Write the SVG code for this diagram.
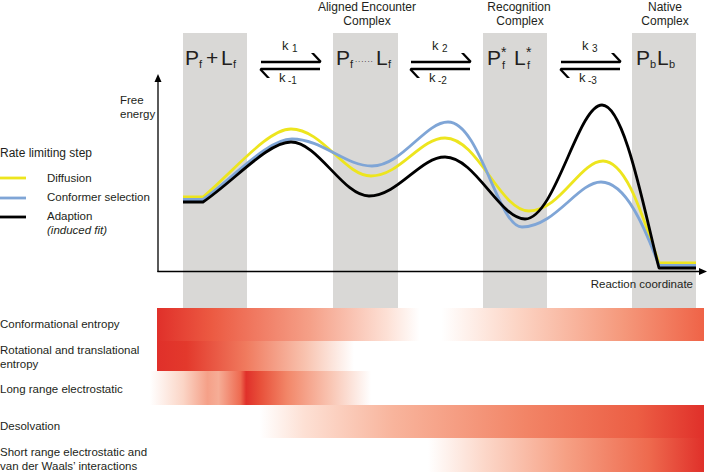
<svg xmlns="http://www.w3.org/2000/svg" width="708" height="472" viewBox="0 0 708 472">
<defs>
<style>
text{font-family:"Liberation Sans",Arial,sans-serif;fill:#231f20}
.lbl{font-size:11.5px}
.hd{font-size:12px;text-anchor:middle}
.big{font-size:21px}
.sub{font-size:11px}
.k{font-size:13px}
.ks{font-size:10px}
.col{fill:#d9d8d6}
.ax{stroke:#000;stroke-width:1.3;fill:none}
.arr{stroke:#000;stroke-width:2.6;fill:none}
.curve{fill:none;stroke-width:2.8;stroke-linejoin:round}
.y{stroke:#ede51e}
.b{stroke:#7fa5d6}
.k0{stroke:#000}
</style>
<linearGradient id="g1" gradientUnits="userSpaceOnUse" x1="157" y1="0" x2="704" y2="0">
<stop offset="0" stop-color="#e0302a"/><stop offset="0.1" stop-color="#ec5a42"/><stop offset="0.28" stop-color="#f5a088"/><stop offset="0.42" stop-color="#fde0d5"/><stop offset="0.48" stop-color="#ffffff"/><stop offset="0.52" stop-color="#ffffff"/><stop offset="0.66" stop-color="#fcd4c4"/><stop offset="0.85" stop-color="#f5997c"/><stop offset="1" stop-color="#ef6347"/>
</linearGradient>
<linearGradient id="g2" gradientUnits="userSpaceOnUse" x1="157" y1="0" x2="354" y2="0">
<stop offset="0" stop-color="#e0302a"/><stop offset="0.15" stop-color="#e3392c"/><stop offset="0.45" stop-color="#f07a5e"/><stop offset="0.75" stop-color="#f8c2ae"/><stop offset="1" stop-color="#ffffff"/>
</linearGradient>
<linearGradient id="g3" gradientUnits="userSpaceOnUse" x1="150" y1="0" x2="371" y2="0">
<stop offset="0" stop-color="#ffffff"/><stop offset="0.15" stop-color="#fbd5c6"/><stop offset="0.26" stop-color="#f5a088"/><stop offset="0.31" stop-color="#f6ad96"/><stop offset="0.41" stop-color="#ee6a50"/><stop offset="0.435" stop-color="#e0302a"/><stop offset="0.5" stop-color="#e8503a"/><stop offset="0.62" stop-color="#f28668"/><stop offset="0.82" stop-color="#f9c6b4"/><stop offset="1" stop-color="#ffffff"/>
</linearGradient>
<linearGradient id="g4" gradientUnits="userSpaceOnUse" x1="260" y1="0" x2="704" y2="0">
<stop offset="0" stop-color="#ffffff"/><stop offset="0.1" stop-color="#fde0d4"/><stop offset="0.3" stop-color="#f8b49c"/><stop offset="0.6" stop-color="#f28466"/><stop offset="0.85" stop-color="#ec5e44"/><stop offset="1" stop-color="#e0302a"/>
</linearGradient>
<linearGradient id="g5" gradientUnits="userSpaceOnUse" x1="428" y1="0" x2="704" y2="0">
<stop offset="0" stop-color="#ffffff"/><stop offset="0.2" stop-color="#fcd8ca"/><stop offset="0.5" stop-color="#f6a084"/><stop offset="0.8" stop-color="#ee6a4e"/><stop offset="1" stop-color="#e0302a"/>
</linearGradient>
</defs>
<rect width="708" height="472" fill="#fff"/>

<g id="columns">
<rect class="col" x="183" y="33" width="64" height="275"/>
<rect class="col" x="333" y="33" width="65" height="275"/>
<rect class="col" x="483" y="33" width="64" height="275"/>
<rect class="col" x="632" y="33" width="64" height="275"/>
</g>

<g id="titles">
<text class="hd" x="367" y="11">Aligned Encounter</text>
<text class="hd" x="367" y="25">Complex</text>
<text class="hd" x="519" y="11">Recognition</text>
<text class="hd" x="520" y="25">Complex</text>
<text class="hd" x="665" y="11">Native</text>
<text class="hd" x="665" y="25">Complex</text>
</g>

<g id="state-free">
<text class="big" x="185" y="65">P</text><text class="sub" x="199" y="68">f</text>
<text class="big" x="206" y="65">+</text>
<text class="big" x="221" y="65">L</text><text class="sub" x="233" y="68">f</text>
</g>
<g id="state-encounter">
<text class="big" x="336" y="65">P</text><text class="sub" x="350" y="68">f</text>
<text x="355" y="62" style="font-size:8px;letter-spacing:0.9px">......</text>
<text class="big" x="376" y="65">L</text><text class="sub" x="388" y="68">f</text>
</g>
<g id="state-recognition">
<text class="big" x="487" y="65">P</text><text x="501" y="57" style="font-size:14px">*</text><text class="sub" x="502" y="69">f</text>
<text class="big" x="514" y="65">L</text><text x="526" y="57" style="font-size:14px">*</text><text class="sub" x="527" y="69">f</text>
</g>
<g id="state-native">
<text class="big" x="636" y="65">P</text><text class="sub" x="650" y="68">b</text>
<text class="big" x="657" y="65">L</text><text class="sub" x="669" y="68">b</text>
</g>

<g id="connectors">
<g id="eq1">
<line class="arr" x1="261" y1="62" x2="320" y2="62"/><polygon points="320.5,63.3 311,53 314,53 321.5,61"/>
<line class="arr" x1="261" y1="69" x2="320" y2="69"/><polygon points="260.5,67.7 270,78 267,78 259.5,70"/>
</g>
<g id="eq2">
<line class="arr" x1="411" y1="62" x2="470" y2="62"/><polygon points="470.5,63.3 461,53 464,53 471.5,61"/>
<line class="arr" x1="411" y1="69" x2="470" y2="69"/><polygon points="410.5,67.7 420,78 417,78 409.5,70"/>
</g>
<g id="eq3">
<line class="arr" x1="561" y1="62" x2="620" y2="62"/><polygon points="620.5,63.3 611,53 614,53 621.5,61"/>
<line class="arr" x1="561" y1="69" x2="620" y2="69"/><polygon points="560.5,67.7 570,78 567,78 559.5,70"/>
</g>
<line class="ax" x1="158" y1="272" x2="158" y2="80"/>
<polygon points="158,74 154.5,82 161.5,82"/>
<line class="ax" x1="157.4" y1="271.5" x2="700" y2="271.5"/>
<polygon points="707,271.5 699,268 699,275"/>
</g>

<g id="rates">
<text class="k" x="282" y="50">k</text><text class="ks" x="292" y="52">1</text>
<text class="k" x="279" y="82">k</text><text class="ks" x="288" y="84">-1</text>
<text class="k" x="432" y="50">k</text><text class="ks" x="442" y="52">2</text>
<text class="k" x="429" y="82">k</text><text class="ks" x="438" y="84">-2</text>
<text class="k" x="582" y="50">k</text><text class="ks" x="592" y="52">3</text>
<text class="k" x="579" y="82">k</text><text class="ks" x="588" y="84">-3</text>
</g>

<g id="axis-labels">
<text class="lbl" x="120" y="104">Free</text>
<text class="lbl" x="120" y="118">energy</text>
<text class="lbl" x="693" y="288" text-anchor="end">Reaction coordinate</text>
</g>

<g id="curves">
<path class="curve y" d="M183,197 L203,197 C235,170 268,129 291,129 C322,129 345,176 371,176 C400,176 420,138 445,138 C478,138 500,211 529,211 C560,211 580,161 603,161 C628,161 645,225 659,263 L696,263"/>
<path class="curve b" d="M183,199.5 L203,199.5 C235,176 268,139 292,139 C322,139 345,166 372,166 C402,166 425,122 448,122 C480,122 498,227 522,227 C555,227 578,182 601,182 C626,182 645,228 659,265.5 L696,265.5"/>
<path class="curve k0" d="M183,202 L203,202 C235,180 268,142 291,142 C318,142 343,196 369,196 C398,196 420,157 445,157 C475,157 500,219 525,219 C555,219 578,105 602,105 C625,105 645,215 659,268 L696,268"/>
</g>

<g id="legend">
<text class="lbl" x="0" y="157" style="font-size:12px">Rate limiting step</text>
<line class="curve y" x1="0" y1="178" x2="26" y2="178"/>
<text class="lbl" x="47" y="182">Diffusion</text>
<line class="curve b" x1="0" y1="198" x2="26" y2="198"/>
<text class="lbl" x="47" y="201">Conformer selection</text>
<line class="curve k0" x1="0" y1="217" x2="26" y2="217"/>
<text class="lbl" x="47" y="220">Adaption</text>
<text class="lbl" x="47" y="234" font-style="italic">(induced fit)</text>
</g>

<g id="contributions">
<rect x="157" y="308" width="547" height="33" fill="url(#g1)"/>
<rect x="157" y="341" width="197" height="30" fill="url(#g2)"/>
<rect x="150" y="371" width="221" height="34" fill="url(#g3)"/>
<rect x="260" y="405" width="444" height="33" fill="url(#g4)"/>
<rect x="428" y="438" width="276" height="34" fill="url(#g5)"/>
<text class="lbl" x="0" y="328">Conformational entropy</text>
<text class="lbl" x="0" y="354">Rotational and translational</text>
<text class="lbl" x="0" y="368">entropy</text>
<text class="lbl" x="0" y="393">Long range electrostatic</text>
<text class="lbl" x="0" y="430">Desolvation</text>
<text class="lbl" x="0" y="456">Short range electrostatic and</text>
<text class="lbl" x="0" y="470">van der Waals’ interactions</text>
</g>
</svg>
